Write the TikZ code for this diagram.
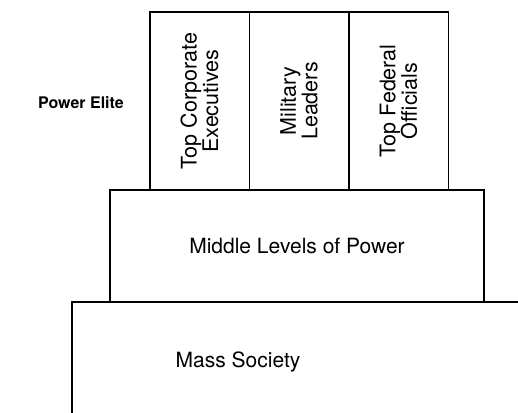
\documentclass[tikz,border=0pt]{standalone}
\usepackage{fontspec}
\setmainfont{TeX Gyre Heros}
\usepackage{tikz}

\begin{document}
\begin{tikzpicture}[
		x=1pt, y=1pt,
		every node/.style={inner sep=0pt, font=\fontsize{21}{20}\selectfont},
		elite/.style={rectangle, draw, line width=1.5pt, rotate=90, align=center,
			minimum width=178pt, minimum height=99.5pt, font=\fontsize{21.5}{21.5}\selectfont},
		level/.style={rectangle, draw, line width=1.5pt}
	]
  \useasboundingbox (0,0) rectangle (518,412);
  \clip (0,0) rectangle (518,412);
  % lower levels
  \node (mass) at (238,50) {Mass Society};
  \draw [line width=1.5pt] (72,-20) |- (540,110);
  \node (middle) [level, minimum width=374pt, minimum height=112pt] at (297,166) {Middle Levels of Power};
  % power elite
  \node (corp) [elite] at (199.5,311) {Top Corporate\\Executives};
  \node (mil) [elite] at (299,311) {Military\\Leaders};
  \node (fed) [elite] at (398.5,311) {Top Federal\\Officials};
  \node (elite_label) [font=\fontsize{16}{18}\selectfont\bfseries] at (81,309) {Power Elite};
\end{tikzpicture}
\end{document}
